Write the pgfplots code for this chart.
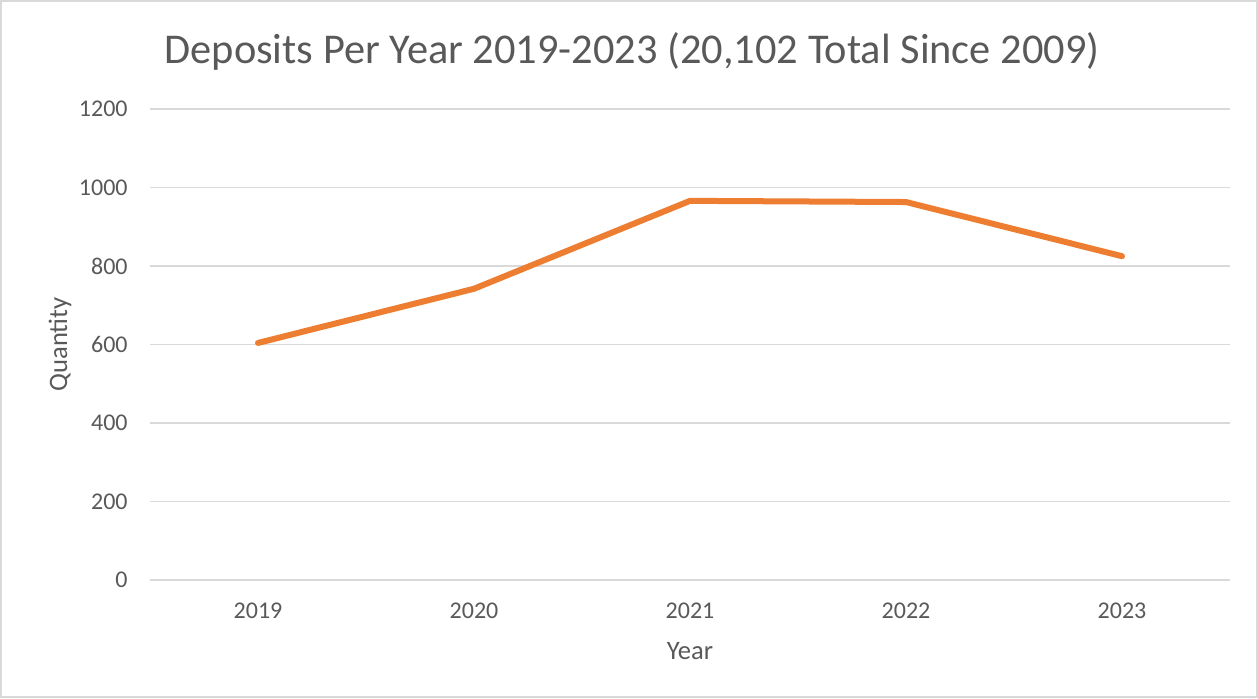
\documentclass[border=0pt]{standalone}
\usepackage{fontspec}
\setmainfont{Carlito}
\usepackage{pgfplots}
\pgfplotsset{compat=1.18}
\definecolor{txt}{HTML}{595959}
\definecolor{grd}{HTML}{D9D9D9}
\definecolor{org}{HTML}{ED7D31}
\begin{document}
\begin{tikzpicture}
\useasboundingbox (-75pt,-59pt) rectangle (554pt,290pt);
\draw[grd, line width=1pt] (-74.5pt,-58.5pt) rectangle (553.5pt,289.5pt);
\begin{axis}[
  scale only axis,
  width=540pt, height=235.5pt,
  xmin=-0.5, xmax=4.5, ymin=0, ymax=1200,
  xtick={0,1,2,3,4},
  xticklabels={2019,2020,2021,2022,2023},
  ytick={0,200,400,600,800,1000,1200},
  /pgf/number format/assume math mode=true,
  /pgf/number format/1000 sep={},
  major tick length=0pt,
  axis line style={draw=none},
  ymajorgrids,
  grid style={grd, line width=0.7pt},
  tick label style={font=\fontsize{12}{14}\selectfont, text=txt},
  yticklabel style={anchor=east, inner sep=0pt, xshift=-11pt},
  xticklabel style={anchor=north, inner sep=0pt, yshift=-11.5pt},
  title={Deposits Per Year 2019-2023 (20,102 Total Since 2009)},
  title style={at={(0.5,1)}, anchor=center, xshift=-29pt, yshift=23pt, font=\fontsize{21.2}{25}\selectfont, text=txt, inner sep=0pt},
  xlabel={Year},
  xlabel style={at={(0.5,0)}, anchor=center, yshift=-35.5pt, font=\fontsize{13.3}{16}\selectfont, text=txt, inner sep=0pt},
  ylabel={Quantity},
  ylabel style={at={(0,0.5)}, anchor=center, yshift=45pt, font=\fontsize{13.3}{16}\selectfont, text=txt, inner sep=0pt},
  clip=false,
]
\addplot[org, line width=3pt, line cap=round, line join=round] coordinates {
  (0,604) (1,742) (2,966) (3,963) (4,825)
};
\end{axis}
\end{tikzpicture}
\end{document}
